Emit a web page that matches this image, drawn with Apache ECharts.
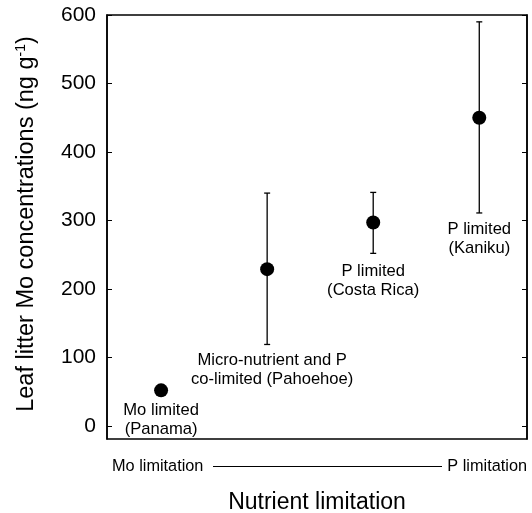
<!DOCTYPE html>
<html>
<head>
<meta charset="utf-8">
<script src="https://cdn.jsdelivr.net/npm/echarts@6/dist/echarts.min.js"></script>
<style>html,body{margin:0;padding:0;background:#fff}#c{width:532px;height:513px}</style>
</head>
<body>
<div id="c"></div>
<script>
const sitePos = [1, 2, 3, 4];
const siteLabels = ['Mo limited\n(Panama)', 'Micro-nutrient and P\nco-limited (Pahoehoe)', 'P limited\n(Costa Rica)', 'P limited\n(Kaniku)'];
const meanMo = [52, 229, 297, 450];
const lowMo = [52, 119, 252, 311];
const highMo = [52, 340, 341, 590];
const yTicks = [0, 100, 200, 300, 400, 500, 600];

const FONT = 'Liberation Sans, Arial, Helvetica, sans-serif';
const chart = echarts.init(document.getElementById('c'), null, {renderer: 'canvas'});

const labelOffsets = [[0, 5], [5, 0], [0, 3], [0, 1]];
const labelData = sitePos.map((x, i) => ({
  value: [x, lowMo[i]],
  label: {offset: labelOffsets[i]}
}));

chart.setOption({
  animation: false,
  backgroundColor: '#fff',
  grid: {left: 107, right: 5, top: 15, bottom: 74, outerBoundsMode: 'none', containLabel: false,
    show: true, borderColor: '#000', borderWidth: 1.5, backgroundColor: 'transparent'},
  xAxis: {
    type: 'value', min: 0.49, max: 4.45,
    axisLine: {show: false}, axisTick: {show: false}, axisLabel: {show: false}, splitLine: {show: false},
    name: 'Nutrient limitation', nameLocation: 'middle', nameGap: 52,
    nameTextStyle: {fontSize: 23, color: '#000', fontFamily: FONT}
  },
  yAxis: [{
    type: 'value', min: -19, max: 600, position: 'left',
    axisLine: {show: true, lineStyle: {color: '#000', width: 1.5}},
    axisTick: {show: true, inside: true, length: 5, customValues: yTicks, lineStyle: {color: '#000', width: 1}},
    axisLabel: {customValues: yTicks, fontSize: 21, color: '#000', fontFamily: FONT, margin: 11},
    splitLine: {show: false},
    name: 'Leaf litter Mo concentrations (ng g{sup|-1})',
    nameLocation: 'middle', nameGap: 68, nameRotate: 90,
    nameTextStyle: {fontSize: 23.5, color: '#000', fontFamily: FONT, lineHeight: 25, padding: [0, 0, 0, 6],
      rich: {sup: {fontSize: 14, fontFamily: FONT, color: '#000', verticalAlign: 'top', lineHeight: 25, padding: [0, 0, 9, 0]}}}
  }, {
    type: 'value', min: -19, max: 600, position: 'right',
    axisLine: {show: true, lineStyle: {color: '#000', width: 1.5}},
    axisTick: {show: true, inside: true, length: 5, customValues: yTicks, lineStyle: {color: '#000', width: 1}},
    axisLabel: {show: false}, splitLine: {show: false}
  }],
  graphic: [
    {type: 'text', left: 112, top: 459, style: {text: 'Mo limitation', fontSize: 16.3, fill: '#000', fontFamily: FONT}},
    {type: 'line', shape: {x1: 213, y1: 466.5, x2: 442, y2: 466.5}, style: {stroke: '#000', lineWidth: 1}},
    {type: 'text', right: 5, top: 459, style: {text: 'P limitation', fontSize: 16.3, fill: '#000', fontFamily: FONT}}
  ],
  series: [
    {
      type: 'custom',
      renderItem: function (params, api) {
        const x = api.value(0);
        const lo = api.coord([x, api.value(1)]);
        const hi = api.coord([x, api.value(2)]);
        const cap = 3;
        const st = {stroke: '#000', lineWidth: 1.3};
        return {type: 'group', children: [
          {type: 'line', shape: {x1: lo[0], y1: lo[1], x2: hi[0], y2: hi[1]}, style: st},
          {type: 'line', shape: {x1: lo[0] - cap, y1: lo[1], x2: lo[0] + cap, y2: lo[1]}, style: st},
          {type: 'line', shape: {x1: hi[0] - cap, y1: hi[1], x2: hi[0] + cap, y2: hi[1]}, style: st}
        ]};
      },
      data: sitePos.map((x, i) => [x, lowMo[i], highMo[i]]),
      z: 2
    },
    {
      type: 'scatter', symbol: 'circle', symbolSize: 14,
      itemStyle: {color: '#000', opacity: 1},
      data: sitePos.map((x, i) => [x, meanMo[i]]),
      z: 3
    },
    {
      type: 'scatter', symbolSize: 0, silent: true,
      itemStyle: {opacity: 1},
      label: {show: true, position: 'bottom', distance: 6, fontSize: 16.6, lineHeight: 19, color: '#000', opacity: 1, fontFamily: FONT, align: 'center',
        formatter: p => siteLabels[p.dataIndex]},
      data: labelData,
      z: 4
    }
  ]
});
</script>
</body>
</html>
